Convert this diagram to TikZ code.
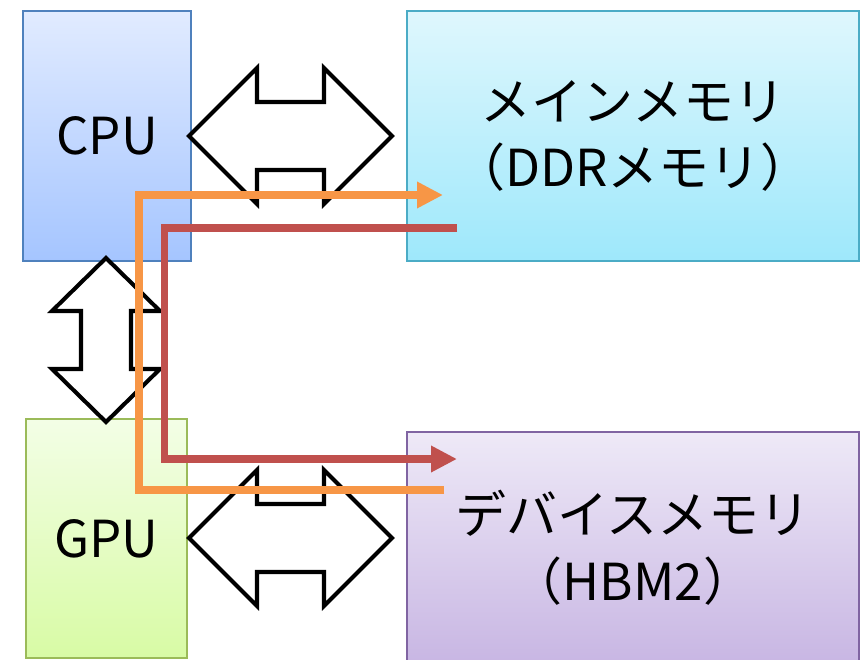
\documentclass[tikz,border=0pt]{standalone}
\usepackage{fontspec}
\setmainfont{Noto Sans CJK JP}
\usetikzlibrary{arrows.meta, calc}
\definecolor{cpuline}{HTML}{4F81BD}
\definecolor{cputop}{HTML}{E1EBFF}
\definecolor{cpubot}{HTML}{A5C5FF}
\definecolor{ddrline}{HTML}{4BACC6}
\definecolor{ddrtop}{HTML}{DFF7FD}
\definecolor{ddrbot}{HTML}{9EE8FB}
\definecolor{gpuline}{HTML}{9BBB59}
\definecolor{gputop}{HTML}{F3FEE6}
\definecolor{gpubot}{HTML}{D8FBA5}
\definecolor{hbmline}{HTML}{8064A2}
\definecolor{hbmtop}{HTML}{EEE9F7}
\definecolor{hbmbot}{HTML}{C8B6E3}
\definecolor{flowout}{HTML}{F79646}
\definecolor{flowin}{HTML}{C0504D}

\begin{document}
\begin{tikzpicture}[
    unit/.style={
      rectangle, draw, line width=0.8pt, inner sep=0pt, align=center,
      font=\fontsize{29pt}{38pt}\selectfont, text=black
    },
    cpunode/.style={unit, draw=cpuline, top color=cputop, bottom color=cpubot},
    ddrnode/.style={unit, draw=ddrline, top color=ddrtop, bottom color=ddrbot},
    gpunode/.style={unit, draw=gpuline, top color=gputop, bottom color=gpubot},
    hbmnode/.style={unit, draw=hbmline, top color=hbmtop, bottom color=hbmbot},
    bus/.style={draw=black, fill=white, line width=2.3pt},
    flowup/.style={
      line width=4.5pt, flowout,
      -{Triangle[length=0.52cm, width=0.5cm]}
    },
    flowdown/.style={
      line width=4.5pt, flowin,
      -{Triangle[length=0.52cm, width=0.5cm]}
    }
  ]
  \useasboundingbox (0,0) rectangle (17.3,13.18);

  % Boites
  \node[cpunode, minimum width=3.36cm, minimum height=5.0cm]  (cpu) at (2.14, 10.46) {CPU};
  \node[ddrnode, minimum width=9.04cm, minimum height=5.0cm]  (ddr) at (12.66,10.46) {メインメモリ\\（DDRメモリ）};
  \node[gpunode, minimum width=3.22cm, minimum height=4.78cm] (gpu) at (2.13, 2.41)  {GPU};
  \node[hbmnode, minimum width=9.04cm, minimum height=4.64cm] (hbm) at (12.66, 2.22) {デバイスメモリ\\（HBM2）};

  % Bus CPU - memoire principale
  \draw[bus, shift={(5.81,10.46)}]
    (-2.03,0) -- (-0.67,1.36) -- (-0.67,0.68) -- (0.67,0.68) -- (0.67,1.36)
    -- (2.03,0) -- (0.67,-1.36) -- (0.67,-0.68) -- (-0.67,-0.68) -- (-0.67,-1.36) -- cycle;
  % Bus GPU - memoire de device
  \draw[bus, shift={(5.81,2.42)}]
    (-2.03,0) -- (-0.67,1.36) -- (-0.67,0.68) -- (0.67,0.68) -- (0.67,1.36)
    -- (2.03,0) -- (0.67,-1.36) -- (0.67,-0.68) -- (-0.67,-0.68) -- (-0.67,-1.36) -- cycle;
  % Bus CPU - GPU
  \draw[bus, shift={(2.12,6.38)}]
    (0,1.64) -- (1.08,0.58) -- (0.5,0.58) -- (0.5,-0.58) -- (1.08,-0.58)
    -- (0,-1.64) -- (-1.08,-0.58) -- (-0.5,-0.58) -- (-0.5,0.58) -- (-1.08,0.58) -- cycle;

  % Extremites des flux
  \coordinate (hbmsrc) at (8.88, 3.38);
  \coordinate (ddrdst) at (8.86, 9.28);
  \coordinate (ddrsrc) at (9.14, 8.62);
  \coordinate (hbmdst) at (9.14, 4.00);

  % Flux
  \draw[flowup]   (hbmsrc) -| (2.78, 9.28) -- (ddrdst);
  \draw[flowdown] (ddrsrc) -| (3.29, 4.00) -- (hbmdst);

\end{tikzpicture}
\end{document}
